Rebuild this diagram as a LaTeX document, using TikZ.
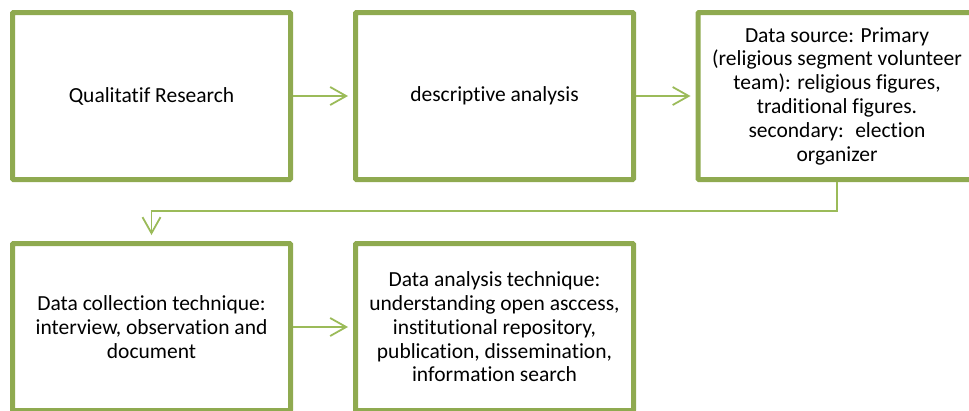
\documentclass[tikz,border=0pt]{standalone}
\usepackage{fontspec}
\setmainfont{Carlito}[Ligatures=NoCommon]
\usetikzlibrary{arrows.meta}
\definecolor{boxgreen}{RGB}{143,170,80}
\definecolor{arrowgreen}{RGB}{155,187,89}
\begin{document}
\begin{tikzpicture}[x=1pt,y=-1pt,
      stepbox/.style={draw=boxgreen,line width=5pt,rounded corners=1pt,
        minimum width=278pt,minimum height=167pt,align=center,inner sep=4pt,
        font=\fontsize{21.5}{23.8}\selectfont},
      flow/.style={draw=arrowgreen,line width=1.8pt,
        -{Straight Barb[length=16pt,width=18pt,line width=1.8pt]},shorten >=5pt}]
      \useasboundingbox(0,0)rectangle(969,410);
      \clip(0,0)rectangle(969,410);
      \node[stepbox](research)at(151.5,96){Qualitatif Research};
      \node[stepbox](descr)at(494.5,96){descriptive analysis};
      \node[stepbox](source)at(837,96){Data source: Primary\\(religious segment volunteer\\
         team): religious figures,\\traditional figures.\\secondary:~ election\\organizer};
      \node[stepbox](collect)at(151.5,327){Data collection technique:\\
         interview, observation and\\document};
      \node[stepbox](analysis)at(494.5,327){Data analysis technique:\\
         understanding open asccess,\\institutional repository,\\
         publication, dissemination,\\information search};
      \draw[flow](research)--(descr);
      \draw[flow](descr)--(source);
      \draw[flow,shorten >=6pt](source.south)--++(0,29)-|(collect.north);
      \draw[flow](collect)--(analysis);
    \end{tikzpicture}
\end{document}
